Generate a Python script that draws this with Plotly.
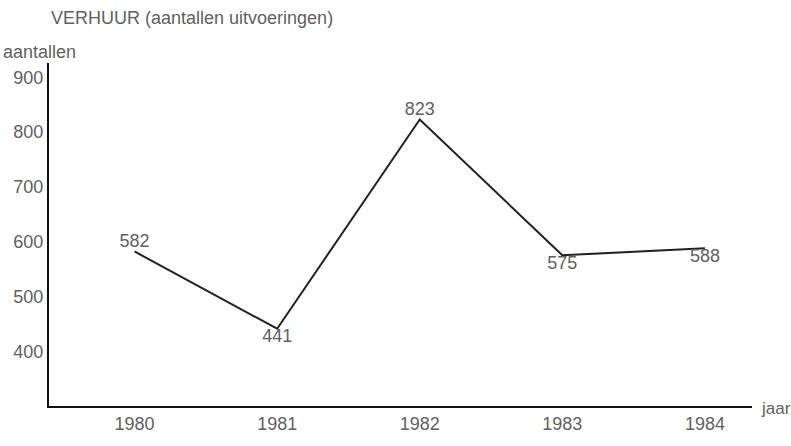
import plotly.graph_objects as go

years = [1980, 1981, 1982, 1983, 1984]
values = [582, 441, 823, 575, 588]
label_pos = ["top center", "bottom center", "top center", "bottom center", "bottom center"]
y_ticks = [400, 500, 600, 700, 800, 900]
title = "VERHUUR (aantallen uitvoeringen)"
y_title = "aantallen"
x_title = "jaar"

FONT = "Liberation Sans"
GREY = "#606060"

fig = go.Figure()
fig.add_trace(go.Scatter(
    x=years, y=values,
    mode="lines+text",
    text=[str(v) for v in values],
    textposition=label_pos,
    textfont=dict(family=FONT, size=18, color=GREY),
    line=dict(color="#222222", width=2),
    cliponaxis=False,
    hoverinfo="skip",
))

fig.update_layout(
    width=791, height=446,
    margin=dict(l=49, r=39, t=63, b=25),
    paper_bgcolor="white", plot_bgcolor="white",
    showlegend=False,
    font=dict(family=FONT, size=18, color=GREY),
    xaxis=dict(
        range=[1979.4, 1984.33],
        tickvals=years, ticktext=[str(y) for y in years],
        showgrid=False, zeroline=False,
        showline=True, linecolor="#111111", linewidth=2,
        ticks="", ticklen=0,
        tickfont=dict(family=FONT, size=18, color=GREY),
    ),
    yaxis=dict(
        range=[300, 926],
        tickvals=y_ticks, ticktext=[str(t) for t in y_ticks],
        showgrid=False, zeroline=False,
        showline=True, linecolor="#111111", linewidth=2,
        ticks="", ticklen=0,
        tickfont=dict(family=FONT, size=18, color=GREY),
    ),
    annotations=[
        dict(text=title, xref="paper", yref="paper", x=0.0, y=1.0,
             xshift=0, yshift=45, xanchor="left", yanchor="middle",
             showarrow=False, font=dict(family=FONT, size=18, color=GREY)),
        dict(text=y_title, xref="paper", yref="paper", x=0.0, y=1.0,
             xshift=-48, yshift=11, xanchor="left", yanchor="middle",
             showarrow=False, font=dict(family=FONT, size=18, color=GREY)),
        dict(text=x_title, xref="paper", yref="paper", x=1.0, y=0.0,
             xshift=7, yshift=-2, xanchor="left", yanchor="middle",
             showarrow=False, font=dict(family=FONT, size=17, color=GREY)),
    ],
)

fig.write_html(
    "out.html",
    config={"displayModeBar": False, "staticPlot": True},
    post_script="document.body.style.margin='0';document.body.style.overflow='hidden';",
)
